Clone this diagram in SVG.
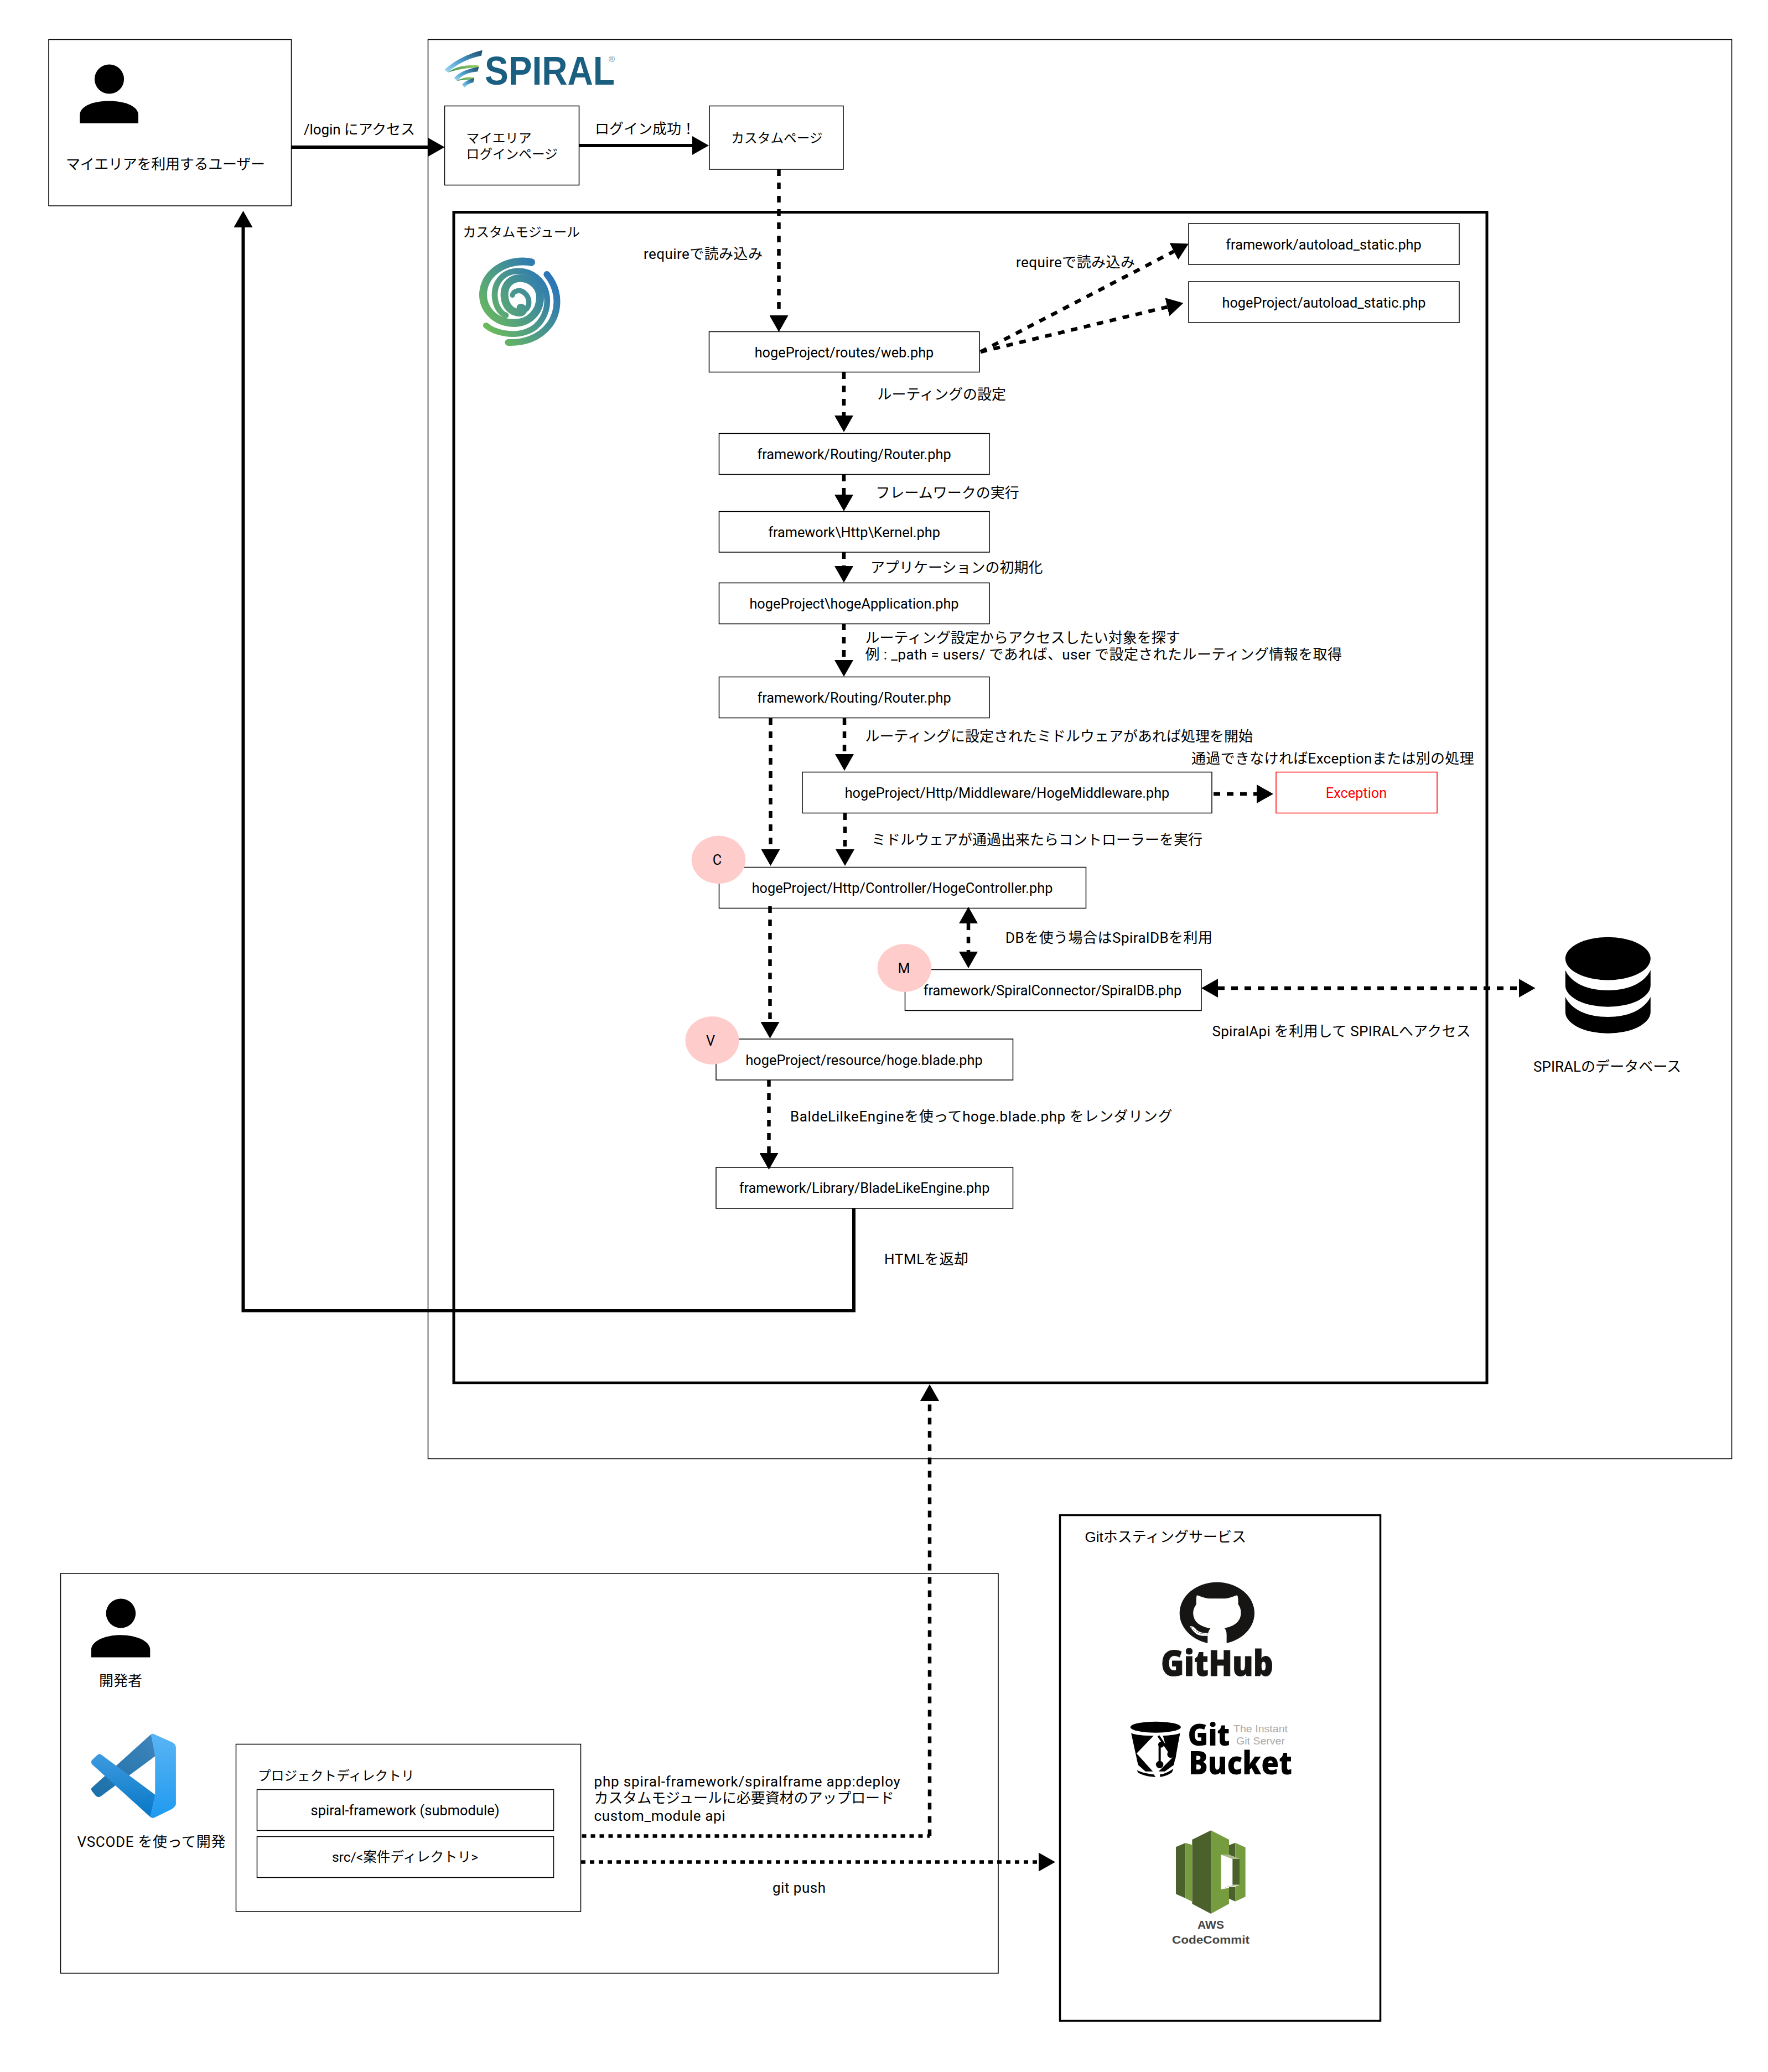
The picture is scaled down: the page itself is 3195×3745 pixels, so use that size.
<svg xmlns="http://www.w3.org/2000/svg" width="3195" height="3745" viewBox="0 0 3195 3745">
<style>
text{font-family:Roboto,"Noto Sans CJK JP",sans-serif;font-size:26px;fill:#000}
.c{text-anchor:middle}
.n{font-size:25.3px}
.s{font-size:23.7px}
.b{fill:#fff;stroke:#000;stroke-width:1.5}
.o{fill:none;stroke:#000;stroke-width:1.5}
.t{fill:none;stroke:#000;stroke-width:5}
.badge{fill:#ffcccc}
.l{fill:none;stroke:#000;stroke-width:6.5}
.solid{stroke-width:6;marker-end:url(#h)}
.da{stroke-dasharray:12 12;marker-end:url(#h)}
.dd{stroke-dasharray:12 12;marker-end:url(#h);marker-start:url(#h)}
.dot{stroke-dasharray:8 8}
.arm{fill:none;stroke:url(#sg);stroke-width:30;stroke-linecap:round}
</style>
<defs>
<marker id="h" markerUnits="userSpaceOnUse" markerWidth="30" markerHeight="34" viewBox="0 0 30 34" refX="0" refY="17" orient="auto-start-reverse"><path d="M0,0L30,17L0,34Z" fill="#000"/></marker>
<linearGradient id="s1" x1="0" y1="1" x2="1" y2="0"><stop offset="0" stop-color="#a6dcf6"/><stop offset=".45" stop-color="#4d9fcf"/><stop offset="1" stop-color="#1d4b6b"/></linearGradient>
<linearGradient id="s2" x1="0" y1="1" x2="1" y2="0"><stop offset="0" stop-color="#2f8a4a"/><stop offset="1" stop-color="#a3d06a"/></linearGradient>
<linearGradient id="sg" gradientUnits="userSpaceOnUse" x1="90" y1="440" x2="470" y2="170"><stop offset="0" stop-color="#6cbb5a"/><stop offset="1" stop-color="#2873bd"/></linearGradient>
<linearGradient id="v1" x1="0" y1="0" x2="0" y2="1"><stop offset="0" stop-color="#5ab5f5"/><stop offset="1" stop-color="#1f9aef"/></linearGradient>
<linearGradient id="v2" x1="0" y1="0" x2="0" y2="1"><stop offset="0" stop-color="#3d9be0"/><stop offset="1" stop-color="#0776c6"/></linearGradient>
<linearGradient id="v3" x1="1" y1="0" x2="0" y2="1"><stop offset="0" stop-color="#3f85bb"/><stop offset="1" stop-color="#1a6fa8"/></linearGradient>
</defs>

<g id="user">
<rect class="b" x="88" y="71.5" width="438.5" height="300.5"/>
<ellipse cx="197.5" cy="143" rx="26.6" ry="26.5"/>
<path d="M144.2,222.8V208C144.2,192 168,182.5 197,182.5C226,182.5 250,192 250,208V222.8Z"/>
<text x="299" y="306" class="c" textLength="360">マイエリアを利用するユーザー</text>
</g>

<g id="spiral">
<rect class="o" x="773.5" y="71.5" width="2356" height="2565"/>
<g id="spiral-logo">
<g transform="translate(780,60) scale(.3333)">
<path d="M275,92L270,122C200,135 130,170 88,213L70,198C120,150 200,110 275,92Z" fill="url(#s1)"/>
<path d="M88,213C140,175 200,170 258,175L250,188C190,185 130,200 88,213Z" fill="url(#s2)"/>
<path d="M256,183L250,208C200,212 160,228 140,260L122,243C150,210 200,192 256,183Z" fill="url(#s1)"/>
<path d="M138,258C170,240 200,236 232,240L226,252C190,250 165,255 138,258Z" fill="url(#s2)"/>
<path d="M231,243L226,268C210,270 190,280 178,295L165,278C180,262 205,250 231,243Z" fill="url(#s1)"/>
</g>
<text x="876" y="153" style="font-family:'Liberation Sans',sans-serif;font-size:72px;font-weight:bold;fill:#1a5f80" textLength="235" lengthAdjust="spacingAndGlyphs">SPIRAL</text>
<text x="1105.5" y="112" class="c" style="font-family:'Liberation Sans',sans-serif;font-size:15px;fill:#5a93b0">®</text>
</g>
</g>

<g id="login-page">
<rect class="b" x="803.5" y="191.5" width="243" height="143"/>
<text x="842.5" y="258" class="s">マイエリア</text>
<text x="842.5" y="286.5" class="s">ログインページ</text>
</g>
<g id="custom-page">
<rect class="b" x="1282" y="191.5" width="242" height="114.5"/>
<text x="1404" y="258" class="c s">カスタムページ</text>
</g>

<g id="custom-module">
<rect class="t" x="820" y="383.5" width="1867" height="2116"/>
<text x="836.5" y="427.5" class="s">カスタムモジュール</text>
<g id="custom-module-logo" transform="translate(850,450) scale(.3333)">
<path class="arm" style="stroke-width:42" d="M330,72C220,50 85,110 70,230C60,320 130,400 235,402C320,402 378,340 378,262C378,190 310,150 250,160C205,170 182,210 185,255C188,310 225,348 270,345C290,343 295,320 272,318"/>
<path class="arm" style="stroke-width:28" d="M228,250C232,228 270,215 295,240C320,262 325,300 305,325"/>
<path class="arm" style="stroke-width:32" d="M85,415C130,455 230,475 300,450C380,425 425,340 415,260C405,170 330,115 250,120C170,125 125,190 133,265C138,315 165,350 192,360"/>
<path class="arm" style="stroke-width:36" d="M205,507C280,510 370,490 430,410C480,340 490,230 415,138"/>
</g>
</g>

<g id="web"><rect class="b" x="1281.5" y="599.5" width="488.5" height="73"/><text x="1525.5" y="645.5" class="c n">hogeProject/routes/web.php</text></g>
<g id="autoload-fw"><rect class="b" x="2148" y="404" width="489" height="74"/><text x="2392" y="451" class="c n">framework/autoload_static.php</text></g>
<g id="autoload-hoge"><rect class="b" x="2148" y="509" width="489" height="74"/><text x="2392.5" y="556" class="c n">hogeProject/autoload_static.php</text></g>
<g id="router1"><rect class="b" x="1299.5" y="783.5" width="488.5" height="74"/><text x="1543.5" y="830" class="c n">framework/Routing/Router.php</text></g>
<g id="kernel"><rect class="b" x="1299.5" y="924.5" width="488.5" height="73.5"/><text x="1543.5" y="971" class="c n">framework\Http\Kernel.php</text></g>
<g id="application"><rect class="b" x="1299.5" y="1053.5" width="488.5" height="74"/><text x="1543.5" y="1100" class="c n">hogeProject\hogeApplication.php</text></g>
<g id="router2"><rect class="b" x="1299.5" y="1223.5" width="488.5" height="74"/><text x="1543.5" y="1270" class="c n">framework/Routing/Router.php</text></g>
<g id="middleware"><rect class="b" x="1450" y="1395.5" width="740" height="74"/><text x="1820" y="1441.5" class="c n">hogeProject/Http/Middleware/HogeMiddleware.php</text></g>
<g id="exception"><rect x="2306" y="1395.5" width="291" height="74" fill="#fff" stroke="#f00" stroke-width="1.5"/><text x="2451" y="1441.5" class="c n" style="fill:#f00">Exception</text></g>
<g id="controller"><rect class="b" x="1299.5" y="1567.5" width="663" height="74"/><ellipse class="badge" cx="1298.5" cy="1554" rx="48.8" ry="43.4"/><text x="1296" y="1563" class="c n">C</text><text x="1630.5" y="1614" class="c n">hogeProject/Http/Controller/HogeController.php</text></g>
<g id="spiraldb"><rect class="b" x="1635.5" y="1752.5" width="535.5" height="74"/><ellipse class="badge" cx="1634.5" cy="1749.5" rx="48.8" ry="43.4"/><text x="1633.5" y="1758.5" class="c n">M</text><text x="1902" y="1798.5" class="c n">framework/SpiralConnector/SpiralDB.php</text></g>
<g id="view"><rect class="b" x="1294" y="1878" width="536.5" height="74"/><ellipse class="badge" cx="1287" cy="1880.5" rx="48.5" ry="43.4"/><text x="1284" y="1889.5" class="c n">V</text><text x="1561.5" y="1925" class="c n">hogeProject/resource/hoge.blade.php</text></g>
<g id="blade"><rect class="b" x="1294" y="2110" width="536.5" height="74"/><text x="1562" y="2156" class="c n">framework/Library/BladeLikeEngine.php</text></g>

<g id="database">
<ellipse cx="2905.75" cy="1732.6" rx="77" ry="38.8"/>
<path d="M2828.75,1753.6C2840,1778 2870,1790 2905.75,1790C2941,1790 2971,1778 2982.75,1753.6V1781A77,38.8 0 0 1 2828.75,1781Z"/>
<path d="M2828.75,1801.8C2840,1826 2870,1838 2905.75,1838C2941,1838 2971,1826 2982.75,1801.8V1829A77,38.8 0 0 1 2828.75,1829Z"/>
<text x="2771" y="1936.5" textLength="267">SPIRALのデータベース</text>
</g>

<g id="developer">
<rect class="o" x="109.5" y="2844" width="1694.5" height="722.5"/>
<ellipse cx="218.4" cy="2916" rx="26.8" ry="26.4"/>
<path d="M164.8,2995.6V2982C164.8,2966 190,2955.3 218,2955.3C246,2955.3 271.3,2966 271.3,2982V2995.6Z"/>
<text x="218" y="3046.5" class="c">開発者</text>
<g id="vscode-logo" transform="translate(80,2820) scale(.6378,.4975)">
<path d="M300,635Q310,625 314,640V712L160,858Q152,865 145,855L136,840Q130,830 136,825Z" fill="url(#v3)"/>
<path d="M160,705L314,852V930Q308,942 298,930L136,742Q130,732 136,725L150,708Q155,702 160,705Z" fill="url(#v2)"/>
<path d="M308,630L360,660Q373,668 373,680V885Q373,895 360,905L312,935Q305,938 300,930L314,852V712L302,632Z" fill="url(#v1)"/>
</g>
<text x="139.5" y="3337.5" textLength="268">VSCODE を使って開発</text>
</g>

<g id="project">
<rect class="b" x="426.5" y="3152.5" width="623" height="302.5"/>
<text x="466" y="3218" class="s">プロジェクトディレクトリ</text>
</g>
<g id="submodule"><rect class="b" x="464.5" y="3234.5" width="536" height="74"/><text x="732" y="3280.5" class="c n" textLength="341">spiral-framework (submodule)</text></g>
<g id="src"><rect class="b" x="464.5" y="3319.5" width="536" height="74"/><text x="732" y="3365" class="c" style="font-size:24.6px">src/&lt;案件ディレクトリ&gt;</text></g>

<g id="git-hosting">
<rect x="1915.5" y="2738.5" width="579" height="914" fill="none" stroke="#000" stroke-width="3.5"/>
<text x="1960.5" y="2787" style="font-family:'Liberation Sans','Noto Sans CJK JP',sans-serif" textLength="291.5">Gitホスティングサービス</text>
<g id="github-logo">
<g transform="translate(2090,2850) scale(.3333)">
<ellipse cx="328" cy="197" rx="203" ry="168" fill="#161514"/>
<path fill="#fff" d="M218,100C240,105 265,118 285,118H372C392,118 415,105 438,100C445,120 442,135 443,150C455,165 459,185 457,205C452,250 410,272 368,278C378,288 380,300 380,315V368H277V318C280,300 285,288 292,280C250,272 205,255 199,205C197,180 205,165 215,150C216,135 214,120 218,100Z"/>
<path fill="#fff" d="M180,268C195,266 205,272 215,285C228,300 250,305 278,305V320C245,322 222,318 205,300C195,290 188,280 180,268Z"/>
<path d="M190,274C205,290 220,310 276,311" fill="none" stroke="#161514" stroke-width="3" stroke-dasharray="5 6"/>
</g>
<text x="2098" y="3029" style="font-family:'Open Sans',sans-serif;font-weight:800;font-size:64px;fill:#161514;stroke:#161514;stroke-width:1" textLength="203" lengthAdjust="spacingAndGlyphs">GitHub</text>
</g>
<g id="gitbucket-logo">
<g transform="translate(2030,3100) scale(.3333)">
<path d="M42,96C90,112 260,112 308,96L274,270L225,305H120L80,270Z"/>
<path fill="#fff" d="M72,208L190,85L225,100L292,205L175,322Z"/>
<path d="M215,112L305,105L282,240L232,175Z"/>
<ellipse cx="175" cy="65" rx="137" ry="30"/>
<path d="M42,92C90,112 260,112 308,92" fill="none" stroke="#fff" stroke-width="10"/>
<path d="M73,298C100,312 130,318 165,322L175,335C140,335 100,325 80,312Z"/>
<path d="M198,322C225,318 250,305 272,290L264,310C245,325 220,333 200,335Z"/>
<path d="M190,112L258,212M197,155V268" fill="none" stroke="#000" stroke-width="12"/>
<circle cx="205" cy="160" r="16"/><circle cx="258" cy="212" r="20"/><circle cx="197" cy="268" r="20"/>
</g>
<text x="2146.5" y="3155" style="font-family:'Open Sans',sans-serif;font-weight:800;font-size:54px" textLength="76" lengthAdjust="spacingAndGlyphs">Git</text>
<text x="2148" y="3206.5" style="font-family:'Open Sans',sans-serif;font-weight:800;font-size:58px" textLength="187" lengthAdjust="spacingAndGlyphs">Bucket</text>
<text x="2229" y="3131" style="font-family:'Liberation Sans',sans-serif;font-size:18px;fill:#aaa" textLength="98" lengthAdjust="spacingAndGlyphs">The Instant</text>
<text x="2234" y="3152.5" style="font-family:'Liberation Sans',sans-serif;font-size:18px;fill:#aaa" textLength="88" lengthAdjust="spacingAndGlyphs">Git Server</text>
</g>
<g id="codecommit-logo">
<g transform="translate(2110,3295) scale(.3333)">
<path fill="#4b612c" d="M45,130L97,108V408L45,385Z"/>
<path fill="#759c3e" d="M97,108L132,118V425L97,408Z"/>
<path fill="#4b612c" d="M133,90L235,40V492L133,438Z"/>
<path fill="#759c3e" d="M235,40L333,90V172L290,172V360L333,352V438L235,492Z"/>
<path fill="#4b612c" d="M333,120L367,107V185L333,172Z"/>
<path fill="#759c3e" d="M367,107L422,132V400L367,425V345L390,335V195L367,185Z"/>
<path fill="#4b612c" d="M352,195H390V335H352Z"/>
<path fill="#4b612c" d="M333,345H367V425L333,410Z"/>
<path fill="#a7b98b" d="M290,172L352,195H390L367,185L333,172Z"/>
<path fill="#a7b98b" d="M290,360L333,340H367L390,335H352Z"/>
</g>
<text x="2188" y="3485.5" class="c" style="font-family:'Liberation Sans',sans-serif;font-weight:bold;font-size:21px;fill:#444">AWS</text>
<text x="2188" y="3513" class="c" style="font-family:'Liberation Sans',sans-serif;font-weight:bold;font-size:21px;fill:#444" textLength="140" lengthAdjust="spacingAndGlyphs">CodeCommit</text>
</g>
</g>

<g id="connectors">
<path class="l solid" d="M526.5,266H773.5"/>
<path class="l solid" d="M1047,263H1251"/>
<path class="l solid" d="M1543,2184V2369H439.5V411"/>
<path class="l da" d="M1407.5,306V570"/>
<path class="l da" d="M1772,636L2121.3,454.4"/>
<path class="l da" d="M1772,636L2109.3,554.8"/>
<path class="l da" d="M1525,673V751"/>
<path class="l da" d="M1525,858V894"/>
<path class="l da" d="M1525,998V1023"/>
<path class="l da" d="M1525,1127V1193"/>
<path class="l da" d="M1392.5,1298V1535"/>
<path class="l da" d="M1526,1298V1363"/>
<path class="l da" d="M1527,1470V1535"/>
<path class="l da" d="M2193,1435H2271"/>
<path class="l dd" d="M1750,1669V1720"/>
<path class="l dd" d="M2201,1786H2744.5"/>
<path class="l da" d="M1391.5,1638V1847"/>
<path class="l da" d="M1389.5,1952V2084"/>
<path class="l dot" d="M1051.5,3318.5H1680" />
<path class="l" stroke-dasharray="12 12" marker-end="url(#h)" d="M1680,3318.5V2532"/>
<path class="l dot" marker-end="url(#h)" d="M1050,3365.5H1877"/>
</g>

<g id="labels">
<text x="549" y="243" textLength="201">/login にアクセス</text>
<text x="1075" y="242">ログイン成功！</text>
<text x="1163" y="467.5" textLength="215">requireで読み込み</text>
<text x="1836" y="483" textLength="215">requireで読み込み</text>
<text x="1585.5" y="722">ルーティングの設定</text>
<text x="1582.5" y="899.5">フレームワークの実行</text>
<text x="1573" y="1035">アプリケーションの初期化</text>
<text x="1563.5" y="1161.5">ルーティング設定からアクセスしたい対象を探す</text>
<text x="1563.5" y="1192" textLength="861.5">例 : _path = users/ であれば、user で設定されたルーティング情報を取得</text>
<text x="1563.5" y="1339.5">ルーティングに設定されたミドルウェアがあれば処理を開始</text>
<text x="2153" y="1379.5" textLength="510.7">通過できなければExceptionまたは別の処理</text>
<text x="1575" y="1527">ミドルウェアが通過出来たらコントローラーを実行</text>
<text x="1817" y="1703.5" textLength="374">DBを使う場合はSpiralDBを利用</text>
<text x="2190.5" y="1872.5" textLength="467.3">SpiralApi を利用して SPIRALへアクセス</text>
<text x="1428" y="2027" textLength="690.4">BaldeLilkeEngineを使ってhoge.blade.php をレンダリング</text>
<text x="1598" y="2285" textLength="152">HTMLを返却</text>
<text x="1073.5" y="3229" textLength="553.4">php spiral-framework/spiralframe app:deploy</text>
<text x="1073.5" y="3259" textLength="542.5">カスタムモジュールに必要資材のアップロード</text>
<text x="1073.5" y="3290.5" textLength="237">custom_module api</text>
<text x="1396" y="3420.5" textLength="96">git push</text>
</g>
</svg>
